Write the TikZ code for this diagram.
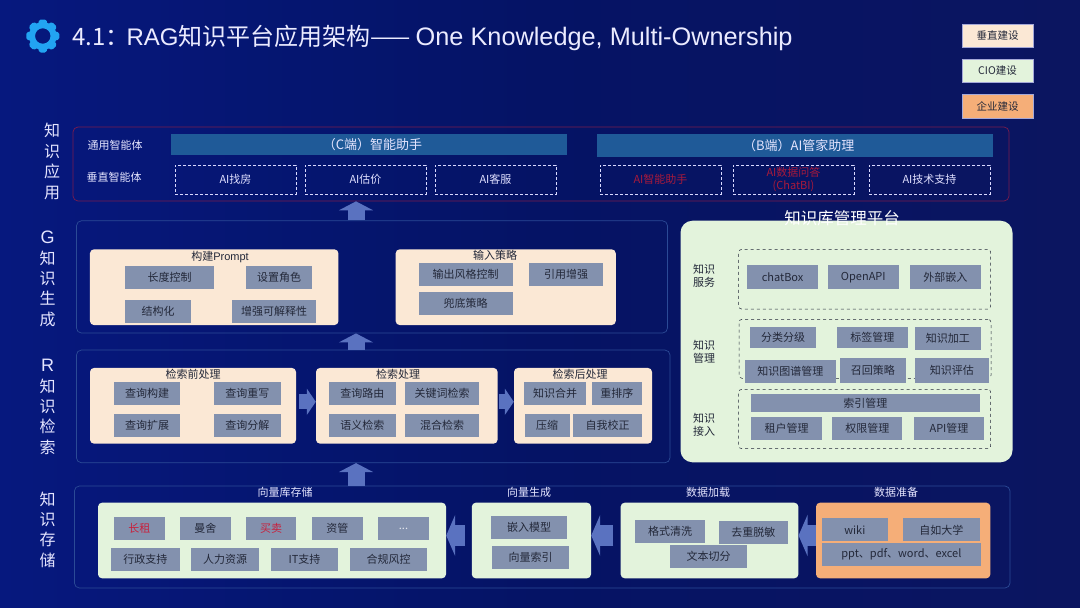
\documentclass[tikz,border=0pt]{standalone}
\usepackage{xcolor}
\usepackage{fontspec}
\setmainfont{Noto Sans CJK SC}
\newfontfamily\latinfont{Liberation Sans}
\usepackage{tikz}
\usetikzlibrary{arrows.meta, positioning}

\definecolor{bgleft}{HTML}{06187E}
\definecolor{bgright}{HTML}{0B1560}
\definecolor{panelblue}{HTML}{2B4A96}
\definecolor{panelred}{HTML}{7A1C4E}
\definecolor{barblue}{HTML}{1F5A98}
\definecolor{graybox}{HTML}{8391AE}
\definecolor{beige}{HTML}{FBE8D5}
\definecolor{pale}{HTML}{E3F3DC}
\definecolor{orange}{HTML}{F5AE78}
\definecolor{arrowblue}{HTML}{5A72C0}
\definecolor{gearblue}{HTML}{22A4F2}
\definecolor{inktext}{HTML}{232839}
\definecolor{redtext}{HTML}{C8203C}
\definecolor{dimred}{HTML}{A81A3C}
\definecolor{legline}{HTML}{A4A8D8}

\tikzset{
  sz/.style={font=\fontsize{#1}{16}\selectfont},
  panel/.style={draw=panelblue, line width=0.7pt, rounded corners=5pt, inner sep=0pt},
  group/.style={rounded corners=4pt, inner sep=0pt, fill=#1},
  gbox/.style={fill=graybox, text=inktext, sz=11, inner sep=0pt, minimum height=23pt},
  dbox/.style={draw=white!85!blue, dash pattern=on 3pt off 2pt, line width=0.8pt, text=white!88!blue, sz=11, inner sep=0pt, minimum width=121pt, minimum height=29pt, align=center},
  redbox/.style={dbox, text=dimred},
  mbox/.style={draw=inktext, dashed, line width=0.5pt, rounded corners=3pt, minimum width=252pt, inner sep=0pt},
  bar/.style={fill=barblue, text=white!90!blue, sz=13, inner sep=0pt},
  title/.style={sz=11, text=inktext, inner sep=0pt},
  wtitle/.style={sz=11, text=white!90!blue, inner sep=0pt},
  side/.style={text=white!90!blue, align=center, inner sep=0pt, font=\fontsize{16}{20.4}\selectfont},
  dlabel/.style={text=inktext, align=center, inner sep=0pt, font=\fontsize{11}{13}\selectfont},
  legend/.style={draw=legline, line width=0.5pt, text=inktext, sz=10.5, inner sep=0pt, minimum width=71pt, minimum height=23.5pt},
  uparrow/.style={draw=arrowblue, line width=17pt, -{Triangle[width=34pt, length=9pt]}},
  flowarrow/.style={draw=arrowblue, line width=15pt, -{Triangle[width=26pt, length=9pt]}},
  storearrow/.style={draw=arrowblue, line width=21pt, -{Triangle[width=41pt, length=9pt]}},
}

\begin{document}
\begin{tikzpicture}[x=1pt, y=-1pt]
    \useasboundingbox (0,0) rectangle (1080,608);
    \shade[left color=bgleft, right color=bgright, middle color=bgleft!80!black] (0,0) rectangle (1080,608);

    % header
    \foreach \a in {0,45,...,315}
        \fill[gearblue, rounded corners=1.5pt, rotate around={\a:(42.8,36)}] (39.3,19.5) -- (46.3,19.5) -- (48.3,27) -- (37.3,27) -- cycle;
    \draw[gearblue, line width=6pt] (42.8,36) circle (10.8pt);
    \node[anchor=base west, inner sep=0pt, text=white!92!blue, sz=24] (title) at (72,45)
        {4.1：\kern-3pt{\latinfont RAG}知识平台应用架构——\kern5pt{\latinfont\fontsize{25.3}{30}\selectfont One Knowledge, Multi-Ownership}};
    \node[legend, fill=beige] (lega) at (997.5,35.8) {垂直建设};
    \node[legend, fill=pale] (legb) at (997.5,70.8) {CIO建设};
    \node[legend, fill=orange] (legc) at (997.5,106) {企业建设};

    % side labels
    \node[side] (sapp) at (52,161.5) {知\\识\\应\\用};
    \node[side] (sgen) at (47.5,279) {{\latinfont\fontsize{18}{20.4}\selectfont G}\\知\\识\\生\\成};
    \node[side] (sret) at (47.5,407) {{\latinfont\fontsize{18}{20.4}\selectfont R}\\知\\识\\检\\索};
    \node[side] (ssto) at (47.5,529.5) {知\\识\\存\\储};

    % panels
    \node[panel, draw=panelred, minimum width=936pt, minimum height=74pt] (app) at (541,164) {};
    \node[panel, minimum width=591pt, minimum height=112.3pt] (gen) at (372,276.9) {};
    \node[panel, minimum width=593.6pt, minimum height=112.7pt] (ret) at (373.2,406.4) {};
    \node[panel, minimum width=935.6pt, minimum height=102pt] (sto) at (542.2,537) {};

    % application layer
    \node[text=white!90!blue, sz=11, inner sep=0pt] (agent1) at (115,145) {通用智能体};
    \node[text=white!90!blue, sz=11, inner sep=0pt] (agent2) at (114,177) {垂直智能体};
    \node[bar, minimum width=396pt, minimum height=21pt] (cbar) at (369,144.5) {\hspace{7pt}（C端）智能助手};
    \node[bar, minimum width=395.5pt, minimum height=23pt] (bbar) at (795.2,145.5) {\hspace{7pt}（B端）AI管家助理};
    \node[dbox] (d1) at (235.5,179.5) {AI找房};
    \node[dbox] (d2) at (365.5,179.5) {AI估价};
    \node[dbox] (d3) at (495.5,179.5) {AI客服};
    \node[redbox] (d4) at (660.5,179.5) {AI智能助手};
    \node[redbox, font=\fontsize{11}{13.5}\selectfont] (d5) at (793.5,179.5) {AI数据问答\\(ChatBI)};
    \node[dbox] (d6) at (929.5,179.5) {AI技术支持};

    % generation layer
    \node[group=beige, minimum width=248.5pt, minimum height=75.7pt] (prompt) at (214.2,287.2) {};
    \node[group=beige, minimum width=220.1pt, minimum height=75.7pt] (input) at (505.7,287.2) {};
    \node[title] (tprompt) at (220,256.7) {构建{\latinfont Prompt}};
    \node[title] (tinput) at (495,255) {输入策略};
    \node[gbox, minimum width=89pt] (g1) at (169.5,277.2) {长度控制};
    \node[gbox, minimum width=66pt] (g2) at (279,277.2) {设置角色};
    \node[gbox, minimum width=66pt] (g3) at (158,311.5) {结构化};
    \node[gbox, minimum width=84pt] (g4) at (274,311.5) {增强可解释性};
    \node[gbox, minimum width=94pt] (g5) at (465.7,274.2) {输出风格控制};
    \node[gbox, minimum width=74pt] (g6) at (566,274.2) {引用增强};
    \node[gbox, minimum width=94pt] (g7) at (465.7,303.2) {兜底策略};

    % retrieval layer
    \node[group=beige, minimum width=206pt, minimum height=75.7pt] (pre) at (193,405.8) {};
    \node[group=beige, minimum width=181.6pt, minimum height=75.7pt] (mid) at (406.8,405.8) {};
    \node[group=beige, minimum width=138pt, minimum height=75.7pt] (post) at (583,405.8) {};
    \node[title] (tpre) at (193,374) {检索前处理};
    \node[title] (tmid) at (398,374) {检索处理};
    \node[title] (tpost) at (580,374) {检索后处理};
    \node[gbox, minimum width=66.4pt] (r1) at (147.2,393) {查询构建};
    \node[gbox, minimum width=66.4pt] (r2) at (247.3,393) {查询重写};
    \node[gbox, minimum width=66.4pt] (r3) at (147.2,425) {查询扩展};
    \node[gbox, minimum width=66.4pt] (r4) at (247.3,425) {查询分解};
    \node[gbox, minimum width=66.7pt] (r5) at (362.3,393) {查询路由};
    \node[gbox, minimum width=74pt] (r6) at (442,393) {关键词检索};
    \node[gbox, minimum width=66.7pt] (r7) at (362.3,425) {语义检索};
    \node[gbox, minimum width=74pt] (r8) at (442,425) {混合检索};
    \node[gbox, minimum width=61.5pt] (r9) at (555.2,393) {知识合并};
    \node[gbox, minimum width=50.4pt] (r10) at (616.8,393) {重排序};
    \node[gbox, minimum width=45pt] (r11) at (547,425) {压缩};
    \node[gbox, minimum width=68.6pt] (r12) at (607.7,425) {自我校正};

    % storage layer
    \node[wtitle] (tvec) at (285,492) {向量库存储};
    \node[wtitle] (tgen) at (529,492) {向量生成};
    \node[wtitle] (tload) at (708,492) {数据加载};
    \node[wtitle] (tprep) at (896,492) {数据准备};
    \node[group=pale, minimum width=348pt, minimum height=75.6pt] (vec) at (272,540.5) {};
    \node[group=pale, minimum width=119.2pt, minimum height=75.6pt] (vgen) at (531.4,540.5) {};
    \node[group=pale, minimum width=177.7pt, minimum height=75.6pt] (load) at (709.5,540.5) {};
    \node[group=orange, minimum width=174.4pt, minimum height=75.6pt] (prep) at (903.2,540.5) {};
    \node[gbox, text=redtext, minimum width=50.6pt] (s1) at (139.3,528.5) {长租};
    \node[gbox, minimum width=50.6pt] (s2) at (205.3,528.5) {曼舍};
    \node[gbox, text=redtext, minimum width=50.6pt] (s3) at (271,528.5) {买卖};
    \node[gbox, minimum width=50.6pt] (s4) at (337.3,528.5) {资管};
    \node[gbox, text=white!80!graybox, minimum width=50.6pt] (s5) at (403.5,528.5) {...};
    \node[gbox, minimum width=68.8pt] (s6) at (145.4,559.6) {行政支持};
    \node[gbox, minimum width=67.5pt] (s7) at (225.2,559.6) {人力资源};
    \node[gbox, minimum width=67pt] (s8) at (304.5,559.6) {IT支持};
    \node[gbox, minimum width=77pt] (s9) at (388.5,559.6) {合规风控};
    \node[gbox, minimum width=76.8pt] (s10) at (529,527.2) {嵌入模型};
    \node[gbox, minimum width=77pt] (s11) at (530.5,557.5) {向量索引};
    \node[gbox, minimum width=70.6pt] (s12) at (670,531.3) {格式清洗};
    \node[gbox, minimum width=69.3pt] (s13) at (753.3,532) {去重脱敏};
    \node[gbox, minimum width=77.5pt] (s14) at (708.5,556.5) {文本切分};
    \node[gbox, minimum width=65.5pt] (s15) at (854.8,529.8) {wiki};
    \node[gbox, minimum width=77.4pt] (s16) at (941.3,529.8) {自如大学};
    \node[gbox, minimum width=158.8pt] (s17) at (901.4,554.5) {ppt、pdf、word、excel};

    % management platform
    \node[group=pale, rounded corners=12pt, minimum width=332pt, minimum height=241.6pt] (mgmt) at (846.5,341.5) {};
    \node[text=white, inner sep=0pt, sz=16.5] (tmgmt) at (842,218) {知识库管理平台};
    \node[dlabel] (lserve) at (704,276) {知识\\服务};
    \node[dlabel] (lmanage) at (704,352) {知识\\管理};
    \node[dlabel] (ljoin) at (704,425) {知识\\接入};
    \node[mbox, minimum height=59.7pt] (serve) at (864.7,279.2) {};
    \node[mbox, minimum height=59pt] (manage) at (865,348.8) {};
    \node[mbox, minimum height=59.4pt] (join) at (864.7,419) {};
    \node[gbox, minimum width=70.7pt, minimum height=23.7pt] (m1) at (782.6,277.2) {chatBox};
    \node[gbox, minimum width=70.7pt, minimum height=23.7pt] (m2) at (863.3,277.2) {OpenAPI};
    \node[gbox, minimum width=71pt, minimum height=23.7pt] (m3) at (945.4,277.2) {外部嵌入};
    \node[gbox, minimum width=66.2pt, minimum height=21pt] (m4) at (783.1,337.5) {分类分级};
    \node[gbox, minimum width=71.2pt, minimum height=21pt] (m5) at (872.4,337.5) {标签管理};
    \node[gbox, minimum width=66.3pt] (m6) at (947.8,338.5) {知识加工};
    \node[gbox, minimum width=90.8pt] (m7) at (790.4,371.4) {知识图谱管理};
    \node[gbox, minimum width=66.4pt, minimum height=24.4pt] (m8) at (872.8,370.5) {召回策略};
    \node[gbox, minimum width=74.3pt, minimum height=24.4pt] (m9) at (951.8,370.5) {知识评估};
    \node[gbox, minimum width=229.3pt, minimum height=18pt] (m10) at (865.3,403) {索引管理};
    \node[gbox, minimum width=70.3pt] (m11) at (786.5,428.7) {租户管理};
    \node[gbox, minimum width=70.3pt] (m12) at (867.3,428.7) {权限管理};
    \node[gbox, minimum width=70.3pt] (m13) at (949,428.7) {API管理};

    % arrows
    \coordinate (axis) at (356,0);
    \draw[uparrow] (gen.north -| axis) -- (app.south -| axis);
    \draw[uparrow] (ret.north -| axis) -- (gen.south -| axis);
    \draw[uparrow] (sto.north -| axis) -- (ret.south -| axis);
    \draw[flowarrow, shorten <=3pt] ([yshift=4pt]pre.east) -- ([yshift=4pt]mid.west);
    \draw[flowarrow, shorten <=1pt] ([yshift=4pt]mid.east) -- ([yshift=4pt]post.west);
    \draw[storearrow, shorten <=7pt] ([yshift=5pt]vgen.west) -- ([yshift=5pt]vec.east);
    \draw[storearrow, shorten <=7pt] ([yshift=5pt]load.west) -- ([yshift=5pt]vgen.east);
    \draw[storearrow] ([yshift=5pt]prep.west) -- ([yshift=5pt]load.east);
\end{tikzpicture}
\end{document}
